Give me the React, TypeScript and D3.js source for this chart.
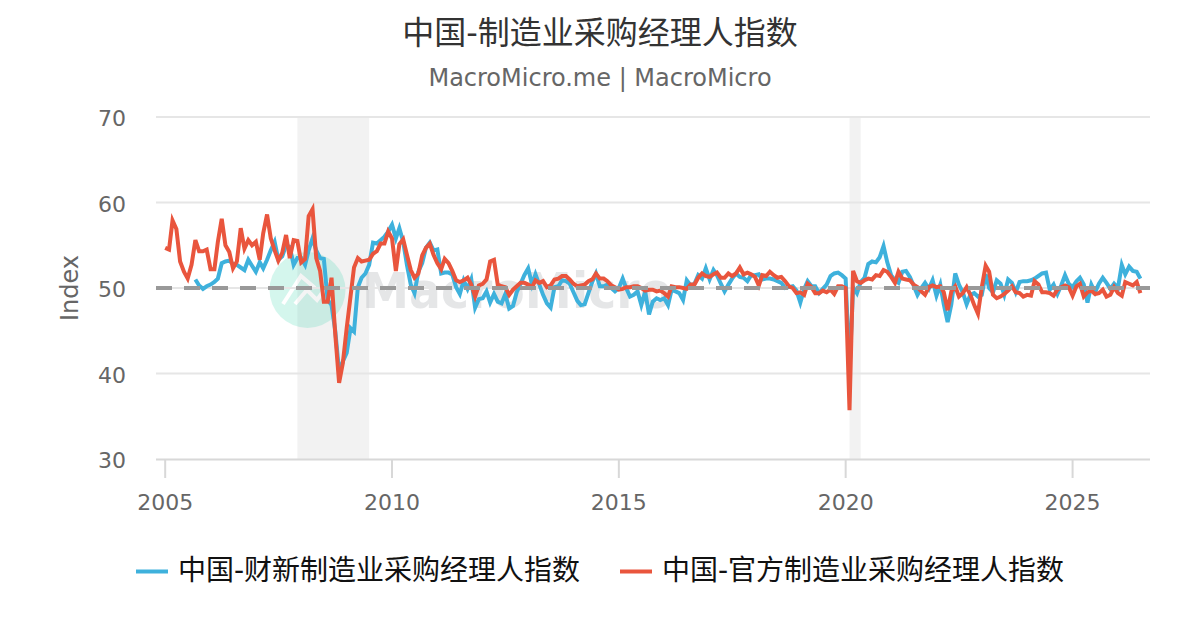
import React from 'react';
import * as d3 from 'd3';

const WIDTH = 1200;
const HEIGHT = 630;

const titleText = '中国-制造业采购经理人指数';
const subtitleText = 'MacroMicro.me | MacroMicro';
const yAxisTitle = 'Index';
const yTicks = [30, 40, 50, 60, 70];
const xTickYears = [2005, 2010, 2015, 2020, 2025];
const caixinName = '中国-财新制造业采购经理人指数';
const officialName = '中国-官方制造业采购经理人指数';

// shaded recessions, [start year, start month, end year, end month]
const recessions = [
  [2007, 11, 2009, 6],
  [2020, 1, 2020, 4],
];

// monthly values, caixin starts 2005-09
const caixinStart = new Date(Date.UTC(2005, 8, 1));
const caixinValues = [
  51.0, 50.3, 49.9, 50.2,
  50.4, 50.7, 51.1, 52.9, 53.1, 53.2, 52.8, 52.7, 52.4, 52.1, 53.3, 52.6,
  51.9, 53.0, 52.3, 53.3, 54.4, 55.4, 53.3, 53.7, 55.0, 54.8, 52.7, 53.5,
  53.5, 52.7, 54.4, 55.8, 54.4, 53.5, 53.4, 48.6, 48.0, 45.0, 40.2, 41.4,
  42.4, 45.3, 44.9, 50.1, 51.2, 51.7, 52.7, 55.3, 55.2, 55.6, 56.0, 56.6,
  57.4, 55.8, 57.0, 55.4, 52.7, 50.4, 49.4, 51.9, 52.9, 54.7, 55.3, 54.4,
  54.5, 51.7, 51.8, 51.8, 51.6, 50.1, 49.3, 50.9, 49.9, 51.0, 47.7, 48.7,
  48.8, 49.6, 48.3, 49.3, 48.4, 48.2, 49.3, 47.6, 47.9, 49.5, 50.5, 51.5,
  52.3, 50.4, 51.6, 50.4, 49.2, 48.2, 47.7, 50.1, 50.2, 50.9, 50.8, 50.5,
  49.5, 48.5, 48.0, 48.1, 49.4, 50.7, 51.7, 50.2, 50.2, 50.4, 50.0, 49.6,
  50.0, 51.1, 50.0, 49.0, 49.2, 49.6, 48.0, 49.6, 46.9, 48.4, 48.8, 48.6,
  48.8, 48.0, 49.8, 49.6, 49.4, 48.6, 50.9, 50.3, 50.5, 51.5, 51.1, 52.3,
  51.0, 52.1, 51.5, 50.5, 49.6, 50.4, 51.1, 51.7, 51.3, 51.2, 50.8, 51.5,
  51.5, 51.6, 51.0, 51.1, 51.1, 51.0, 50.8, 50.6, 50.0, 50.1, 50.2, 49.7,
  48.3, 49.9, 50.8, 50.2, 50.2, 49.4, 49.9, 50.4, 51.4, 51.7, 51.8, 51.5,
  51.1, 40.3, 50.1, 49.4, 50.7, 51.2, 52.8, 53.1, 53.0, 53.6, 54.9, 53.0,
  51.5, 50.9, 50.6, 51.9, 52.0, 51.3, 50.3, 49.2, 50.0, 50.6, 49.9, 50.9,
  49.1, 50.4, 48.1, 46.0, 48.1, 51.7, 50.4, 49.5, 48.1, 49.2, 49.4, 49.0,
  49.2, 51.6, 50.0, 49.5, 50.9, 50.5, 49.2, 51.0, 50.6, 49.5, 50.7, 50.8,
  50.8, 50.9, 51.1, 51.4, 51.7, 51.8, 49.8, 50.4, 49.3, 50.3, 51.5, 50.5,
  50.1, 50.8, 51.2, 50.4, 48.3, 50.4, 49.5, 50.5, 51.2, 50.6, 49.9, 50.5,
  50.0, 52.7, 51.6, 52.5, 52.0, 51.9, 51.1,
];

// official series starts 2005-01
const officialStart = new Date(Date.UTC(2005, 0, 1));
const officialValues = [
  54.7, 54.5, 57.9, 56.9, 53.1, 51.9, 51.1, 52.7, 55.6, 54.3, 54.3, 54.5,
  52.2, 52.2, 55.4, 58.1, 55.0, 54.2, 52.3, 53.1, 57.0, 54.6, 55.6, 55.0,
  55.4, 53.3, 56.4, 58.6, 55.8, 54.4, 53.2, 54.1, 56.2, 53.5, 55.6, 55.5,
  53.0, 53.4, 58.4, 59.2, 53.5, 52.0, 48.4, 48.4, 51.2, 44.6, 38.9, 41.2,
  45.3, 49.0, 52.4, 53.5, 53.1, 53.2, 53.3, 54.0, 54.3, 55.2, 55.2, 56.6,
  55.8, 52.0, 55.1, 55.7, 53.9, 52.1, 51.2, 51.7, 53.8, 54.7, 55.2, 53.9,
  52.9, 52.2, 53.4, 52.9, 52.0, 50.9, 50.7, 50.9, 51.2, 50.4, 49.0, 50.3,
  50.5, 51.0, 53.1, 53.3, 50.4, 50.2, 50.1, 49.2, 49.8, 50.2, 50.6, 50.6,
  50.4, 50.1, 50.9, 50.6, 50.8, 50.1, 50.3, 51.0, 51.1, 51.4, 51.4, 51.0,
  50.5, 50.2, 50.3, 50.4, 50.8, 51.0, 51.7, 51.1, 51.1, 50.8, 50.3, 50.1,
  49.8, 49.9, 50.1, 50.1, 50.2, 50.2, 50.0, 49.7, 49.8, 49.8, 49.6, 49.7,
  49.4, 49.0, 50.2, 50.1, 50.1, 50.0, 49.9, 50.4, 50.4, 51.2, 51.7, 51.4,
  51.3, 51.6, 51.8, 51.2, 51.2, 51.7, 51.4, 51.7, 52.4, 51.6, 51.8, 51.6,
  51.3, 50.3, 51.5, 51.4, 51.9, 51.5, 51.2, 51.3, 50.8, 50.2, 50.0, 49.4,
  49.5, 49.2, 50.5, 50.1, 49.4, 49.4, 49.7, 49.5, 49.8, 49.3, 50.2, 50.2,
  50.0, 35.7, 52.0, 50.8, 50.6, 50.9, 51.1, 51.0, 51.5, 51.4, 52.1, 51.9,
  51.3, 50.6, 51.9, 51.1, 51.0, 50.9, 50.4, 50.1, 49.6, 49.2, 50.1, 50.3,
  50.1, 50.2, 49.5, 47.4, 49.6, 50.2, 49.0, 49.4, 50.1, 49.2, 48.0, 47.0,
  50.1, 52.6, 51.9, 49.2, 48.8, 49.0, 49.3, 49.7, 50.2, 49.5, 49.4, 49.0,
  49.2, 49.1, 50.8, 50.4, 49.5, 49.5, 49.4, 49.1, 49.8, 50.1, 50.3, 50.1,
  49.1, 50.2, 50.5, 49.0, 49.5, 49.7, 49.3, 49.4, 49.8, 49.0, 49.2, 50.1,
  49.4, 49.1, 50.7, 50.5, 50.3, 50.7, 49.4,
];

const FONT = '"DejaVu Sans", "Noto Sans CJK SC", sans-serif';
const CAIXIN_COLOR = '#3eb1dc';
const OFFICIAL_COLOR = '#e9553d';

const monthsFrom = (start: Date, i: number) =>
  new Date(Date.UTC(start.getUTCFullYear(), start.getUTCMonth() + i, 1));

const App = () => {
  const x = d3
    .scaleUtc()
    .domain([new Date(Date.UTC(2005, 0, 1)), new Date(Date.UTC(2025, 0, 1))])
    .range([165.2, 1072.6]);
  const y = d3.scaleLinear().domain([30, 70]).range([459, 117]);

  const makePath = (start: Date, values: number[]) =>
    d3
      .line<number>()
      .x((d, i) => x(monthsFrom(start, i)))
      .y((d) => y(d))(values) || '';

  return (
    <svg
      width={WIDTH}
      height={HEIGHT}
      style={{ position: 'absolute', left: 0, top: 0, fontFamily: FONT }}
    >
      <rect width={WIDTH} height={HEIGHT} fill="#fff" />

      <text x={600} y={44} textAnchor="middle" fontSize={32} fill="#333">
        {titleText}
      </text>
      <text x={600} y={86} textAnchor="middle" fontSize={24} fill="#666">
        {subtitleText}
      </text>

      {recessions.map((r, i) => {
        const x0 = x(new Date(Date.UTC(r[0], r[1], 1)));
        const x1 = x(new Date(Date.UTC(r[2], r[3], 1)));
        return <rect key={i} x={x0} y={117} width={x1 - x0} height={342} fill="#f2f2f2" />;
      })}

      {/* watermark */}
      <g opacity={0.2}>
        <circle cx={307.5} cy={290} r={38} fill="#2fd3ab" />
        <path
          d="M283,304 L301,276 L315,288 M295,304 L307,290 L317,300 L330,282"
          fill="none"
          stroke="#fff"
          strokeWidth={4}
        />
        <text x={362} y={308} fontSize={50} fontWeight="bold" fill="#7f848c" textLength={310} lengthAdjust="spacingAndGlyphs">
          MacroMicro
        </text>
      </g>

      {yTicks.map((t) =>
        t === 30 ? null : (
          <line key={t} x1={156} x2={1150} y1={y(t)} y2={y(t)} stroke="#e6e6e6" strokeWidth={2} />
        )
      )}
      {yTicks.map((t) => (
        <text key={t} x={126} y={y(t) + 9} textAnchor="end" fontSize={22} fill="#666">
          {t}
        </text>
      ))}
      <text
        transform={`translate(78,${y(50)}) rotate(-90)`}
        textAnchor="middle"
        fontSize={24}
        fill="#666"
      >
        {yAxisTitle}
      </text>

      <line x1={156} x2={1150} y1={459.5} y2={459.5} stroke="#d8d8d8" strokeWidth={2} />
      {xTickYears.map((yr) => {
        const px = x(new Date(Date.UTC(yr, 0, 1)));
        return (
          <g key={yr}>
            <line x1={px} x2={px} y1={459} y2={478} stroke="#d8d8d8" strokeWidth={2} />
            <text x={px} y={510} textAnchor="middle" fontSize={22} fill="#666">
              {yr}
            </text>
          </g>
        );
      })}

      <path d={makePath(caixinStart, caixinValues)} fill="none" stroke={CAIXIN_COLOR} strokeWidth={4} />
      <path d={makePath(officialStart, officialValues)} fill="none" stroke={OFFICIAL_COLOR} strokeWidth={4} />

      <line x1={156} x2={1150} y1={y(50)} y2={y(50)} stroke="#999" strokeWidth={4} strokeDasharray="16 12" />

      <line x1={136} x2={168} y1={571.5} y2={571.5} stroke={CAIXIN_COLOR} strokeWidth={4} />
      <text x={178} y={580} fontSize={28} fill="#111">
        {caixinName}
      </text>
      <line x1={620} x2={652} y1={571.5} y2={571.5} stroke={OFFICIAL_COLOR} strokeWidth={4} />
      <text x={662} y={580} fontSize={28} fill="#111">
        {officialName}
      </text>
    </svg>
  );
};

export default App;
